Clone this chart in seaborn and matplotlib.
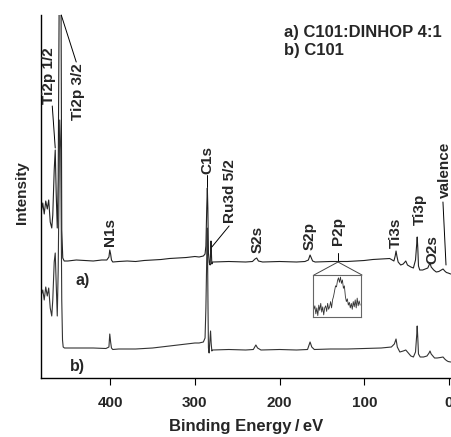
import numpy as np
import pandas as pd
import matplotlib
matplotlib.use("Agg")
import matplotlib.pyplot as plt
import seaborn as sns

# ---------------- data ----------------
# spectrum a) C101:DINHOP 4:1  (binding energy, intensity in arbitrary units)
energy_a = [481.4, 479.6, 477.9, 476.1, 474.3, 472.6, 470.8, 469.0, 467.8, 466.1,
            464.9, 463.7, 462.5, 461.4, 459.6, 458.4, 457.2, 456.0, 454.3, 450,
            440, 430, 420, 410, 404, 401.5, 400.5, 399.5, 398.5, 397,
            390, 380, 370, 360, 350, 340, 330, 320, 310, 300,
            295, 290, 288, 287, 286, 285.3, 284.7, 284, 283, 282,
            281, 280.5, 280, 279, 278, 260, 240, 232, 229, 227,
            225, 220, 200, 180, 170, 166, 164, 162.5, 161, 158,
            140, 120, 100, 90, 80, 70, 65, 63.5, 62.5, 61.5,
            60, 57, 54, 51, 49, 45, 42, 39.5, 38, 37.5,
            36.8, 36, 34.5, 31, 28, 25, 23.5, 22.4, 21, 18,
            15, 12, 9, 7, 5, 3, 1, -2]
intensity_a = [166, 175, 164, 177, 169, 178, 156, 150, 163, 208,
               228, 183, 150, 198, 478, 478, 148, 120, 117, 117,
               118, 117.5, 117, 118, 118, 121, 128, 124, 118, 116,
               116.5, 117, 116.5, 117.5, 118, 118.5, 119.5, 120, 120.5, 121.5,
               121, 122, 124, 132, 170, 190, 170, 125, 115, 113,
               137, 125, 114, 116, 116, 116.5, 116, 116.5, 119, 120,
               117, 116, 116.5, 116, 116.5, 118, 123, 120, 117, 116,
               116.5, 116.5, 117.5, 118.5, 119, 119.5, 117, 122, 127, 122,
               116, 113, 114, 117, 113, 111, 110, 118, 135, 141,
               130, 112, 108, 108, 109, 110, 113, 115, 111, 108,
               106, 106.5, 108, 109, 107, 105.5, 105, 104]

# spectrum b) C101
energy_b = [481.4, 479.6, 477.9, 476.1, 474.3, 472.6, 470.8, 469.0, 467.8, 466.1,
            464.9, 463.7, 462.5, 461.4, 459.6, 458.4, 457.2, 456.3, 455.5, 454,
            450, 420, 405, 401.5, 400.5, 399.5, 398.5, 397, 390, 370,
            350, 330, 310, 300, 295, 290, 288, 287, 286, 285.5,
            285, 284.5, 284, 283.2, 282.5, 281.5, 280.8, 280, 279, 260,
            240, 231, 228, 226, 222, 200, 180, 167, 164, 162,
            159, 140, 120, 100, 80, 68, 64.5, 62.5, 61, 58,
            54, 51, 48, 45, 42, 39.5, 38, 37.5, 36.8, 36,
            34, 30, 26, 23.5, 22.4, 21, 17, 14, 10, 7,
            5, 3, 1, -2]
intensity_b = [83, 88, 78, 91, 82, 90, 70, 62, 78, 116,
               125, 93, 62, 108, 258, 228, 78, 38, 31, 30,
               30, 30, 29.5, 31, 44, 36, 30, 28.5, 29, 29,
               30, 32, 34, 35, 35, 36, 40, 70, 120, 150,
               120, 70, 30, 25, 35, 47, 35, 27, 28, 28.5,
               28, 28.5, 33, 30, 28, 28.5, 28, 28.5, 36, 31,
               28.5, 29, 29, 29.5, 30, 31, 34, 39, 31, 26,
               27, 28, 25, 22, 21, 26, 44, 52, 40, 24,
               21, 21, 22, 25, 27, 24, 20, 20, 20.5, 21,
               19, 17.5, 16.5, 16]

# P2p detail shown in the inset (a.u.)
p2p_counts = [30, 40, 17, 34, 12, 42, 27, 47, 22, 37, 14, 34, 40, 24, 47, 30,
              37, 52, 34, 57, 67, 82, 97, 94, 112, 120, 107, 122, 104, 114, 90, 97,
              67, 52, 60, 42, 50, 34, 47, 30, 52, 37, 57, 34, 62, 40, 54, 42]
p2p_energy = np.linspace(140, 124, len(p2p_counts))

tick_values = [400, 300, 200, 100, 0]

# peak labels: (text, x energy, y intensity of text bottom)
peak_labels = [("Ti2p 1/2", 472.0, 274), ("N1s", 400.0, 132), ("C1s", 285.5, 204),
               ("Ru3d 5/2", 258.4, 155), ("S2s", 226.5, 125), ("S2p", 164.0, 128),
               ("P2p", 131.0, 133), ("Ti3s", 62.5, 130), ("Ti3p", 34.2, 153),
               ("O2s", 20.0, 114), ("valence", 4.7, 180)]

df = pd.concat([
    pd.DataFrame({"energy": energy_a, "intensity": intensity_a, "sample": "a"}),
    pd.DataFrame({"energy": energy_b, "intensity": intensity_b, "sample": "b"}),
], ignore_index=True)

# ---------------- figure ----------------
sns.set_theme(style="white")
plt.rcParams["font.family"] = ["Liberation Sans", "DejaVu Sans"]
plt.rcParams["font.weight"] = "bold"

fig = plt.figure(figsize=(4.52, 4.37), dpi=100)
W, H = 452, 437
L, R, T, B = 41, 451, 15, 378
ax = fig.add_axes([L / W, 1 - B / H, (R - L) / W, (B - T) / H])

sns.lineplot(data=df, x="energy", y="intensity", hue="sample", units="sample",
             estimator=None, sort=False, palette={"a": "#222222", "b": "#333333"},
             linewidth=0.8, legend=False, ax=ax)

ax.set_xlim(481.7, -2.4)
ax.set_ylim(0, 363)
ax.set_xticks(tick_values)
ax.set_xticklabels([str(v) for v in tick_values], fontsize=11, fontweight="bold")
ax.set_yticks([])
for s in ["top", "right"]:
    ax.spines[s].set_visible(False)
for s in ["left", "bottom"]:
    ax.spines[s].set_color("black")
    ax.spines[s].set_linewidth(1.0)
ax.tick_params(axis="x", direction="out", length=5, width=0.8, color="black",
               pad=8, bottom=True)

ax.set_xlabel("Binding Energy\u2009/\u2009eV", fontsize=12, fontweight="bold")
ax.xaxis.set_label_coords(0.5, -0.112)
ax.xaxis.label.set_va("top")
ax.set_ylabel("Intensity", fontsize=11, fontweight="bold")
ax.yaxis.set_label_coords(-0.046, 0.51)
ax.yaxis.label.set_va("center")

tfont = dict(fontsize=11, fontweight="bold", rotation=90, ha="center")
for txt, xe, yb in peak_labels:
    ax.text(xe, yb, txt, va="bottom", **tfont)
ax.text(437.8, 315, "Ti2p 3/2", va="top", **tfont)

lk = dict(color="black", linewidth=0.7)
ax.plot([468.4, 464.9], [272, 230], **lk)          # Ti2p 1/2
ax.plot([440.1, 457.8], [316, 363], clip_on=False, **lk)  # Ti2p 3/2
ax.plot([285.5, 285.5], [203, 191], **lk)          # C1s
ax.plot([259.6, 280.0], [152, 131], **lk)          # Ru3d
ax.plot([131.0, 131.0], [125, 117], **lk)          # P2p tick
ax.plot([7.1, 3.5], [176, 113], **lk)              # valence

# lines from P2p to inset corners
ax.plot([131.0, 159.4], [116, 103], color="#444444", linewidth=0.7)
ax.plot([131.0, 102.7], [116, 103], color="#444444", linewidth=0.7)

ax.text(441.3, 97, "a)", fontsize=11.5, fontweight="bold", ha="left", va="center")
ax.text(447.0, 11, "b)", fontsize=11.5, fontweight="bold", ha="left", va="center")

fig.text(284 / W, 1 - 32 / H, "a) C101:DINHOP 4:1", fontsize=12,
         fontweight="bold", ha="left", va="center")
fig.text(284 / W, 1 - 50 / H, "b) C101", fontsize=12,
         fontweight="bold", ha="left", va="center")

# inset
ix0, ix1, iy0, iy1 = 313, 361, 275, 317
iax = fig.add_axes([ix0 / W, 1 - iy1 / H, (ix1 - ix0) / W, (iy1 - iy0) / H])
sns.lineplot(x=p2p_energy, y=p2p_counts, color="#333333", linewidth=0.6,
             ax=iax, estimator=None, sort=False)
iax.set_xlim(140.3, 123.7)
iax.set_ylim(8, 128)
iax.set_xticks([])
iax.set_yticks([])
iax.set_xlabel("")
iax.set_ylabel("")
for s in iax.spines.values():
    s.set_color("#666666")
    s.set_linewidth(0.8)
    s.set_visible(True)

fig.savefig("out.png", dpi=100)
